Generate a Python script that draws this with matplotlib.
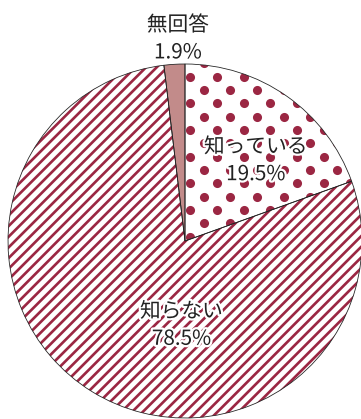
import matplotlib
matplotlib.use("Agg")
import matplotlib.pyplot as plt
import matplotlib.patheffects as pe
import numpy as np

labels = ["知っている", "知らない", "無回答"]
values = [19.5, 78.5, 1.9]
value_labels = ["19.5%", "78.5%", "1.9%"]

red = "#9b2743"
pink = "#c28b8a"

plt.rcParams["font.family"] = ["Noto Sans CJK JP", "DejaVu Sans"]
plt.rcParams["hatch.linewidth"] = 3.0

dpi = 64
fig = plt.figure(figsize=(361 / dpi, 419 / dpi), dpi=dpi)
ax = fig.add_axes([8 / 361, 1 / 419, 354 / 361, 354 / 419])

# fills: white with pattern, pink solid
wedges, _ = ax.pie(values, startangle=90, counterclock=False, radius=1,
                   colors=["white", "white", pink])
for w in wedges:
    w.set_linewidth(0)
wedges[1].set_hatch("//")
wedges[1].set_edgecolor(red)

# dotted pattern for the first wedge
step = 13.33 / 177
gx = np.arange(-1.2, 1.2, step)
gy = np.arange(-1.2, 1.2, step)
xx, yy = np.meshgrid(gx, gy)
ii, jj = np.meshgrid(np.arange(len(gx)), np.arange(len(gy)))
mask = (ii + jj) % 2 == 0
dots = ax.scatter(xx[mask] + 0.025, yy[mask] + 0.02, s=105, color=red,
                  linewidths=0, zorder=2)
dots.set_clip_path(wedges[0])

# outlines
outline, _ = ax.pie(values, startangle=90, counterclock=False, radius=1,
                    colors=["none"] * 3,
                    wedgeprops=dict(edgecolor="#222222", linewidth=0.9))
for w in outline:
    w.set_zorder(3)
    w.set_facecolor("none")

ax.set_xlim(-1, 1)
ax.set_ylim(-1, 1)
ax.set_aspect("auto")
ax.axis("off")

halo = [pe.withStroke(linewidth=5, foreground="white")]
positions = [(0.40, 0.455), (-0.02, -0.475), (-0.04, 1.143)]
for lab, val, (x, y) in zip(labels, value_labels, positions):
    ax.text(x, y, f"{lab}\n{val}", ha="center", va="center", fontsize=23.3,
            color="#222222", linespacing=1.32, zorder=5, path_effects=halo)

fig.savefig("out.png", dpi=dpi)
